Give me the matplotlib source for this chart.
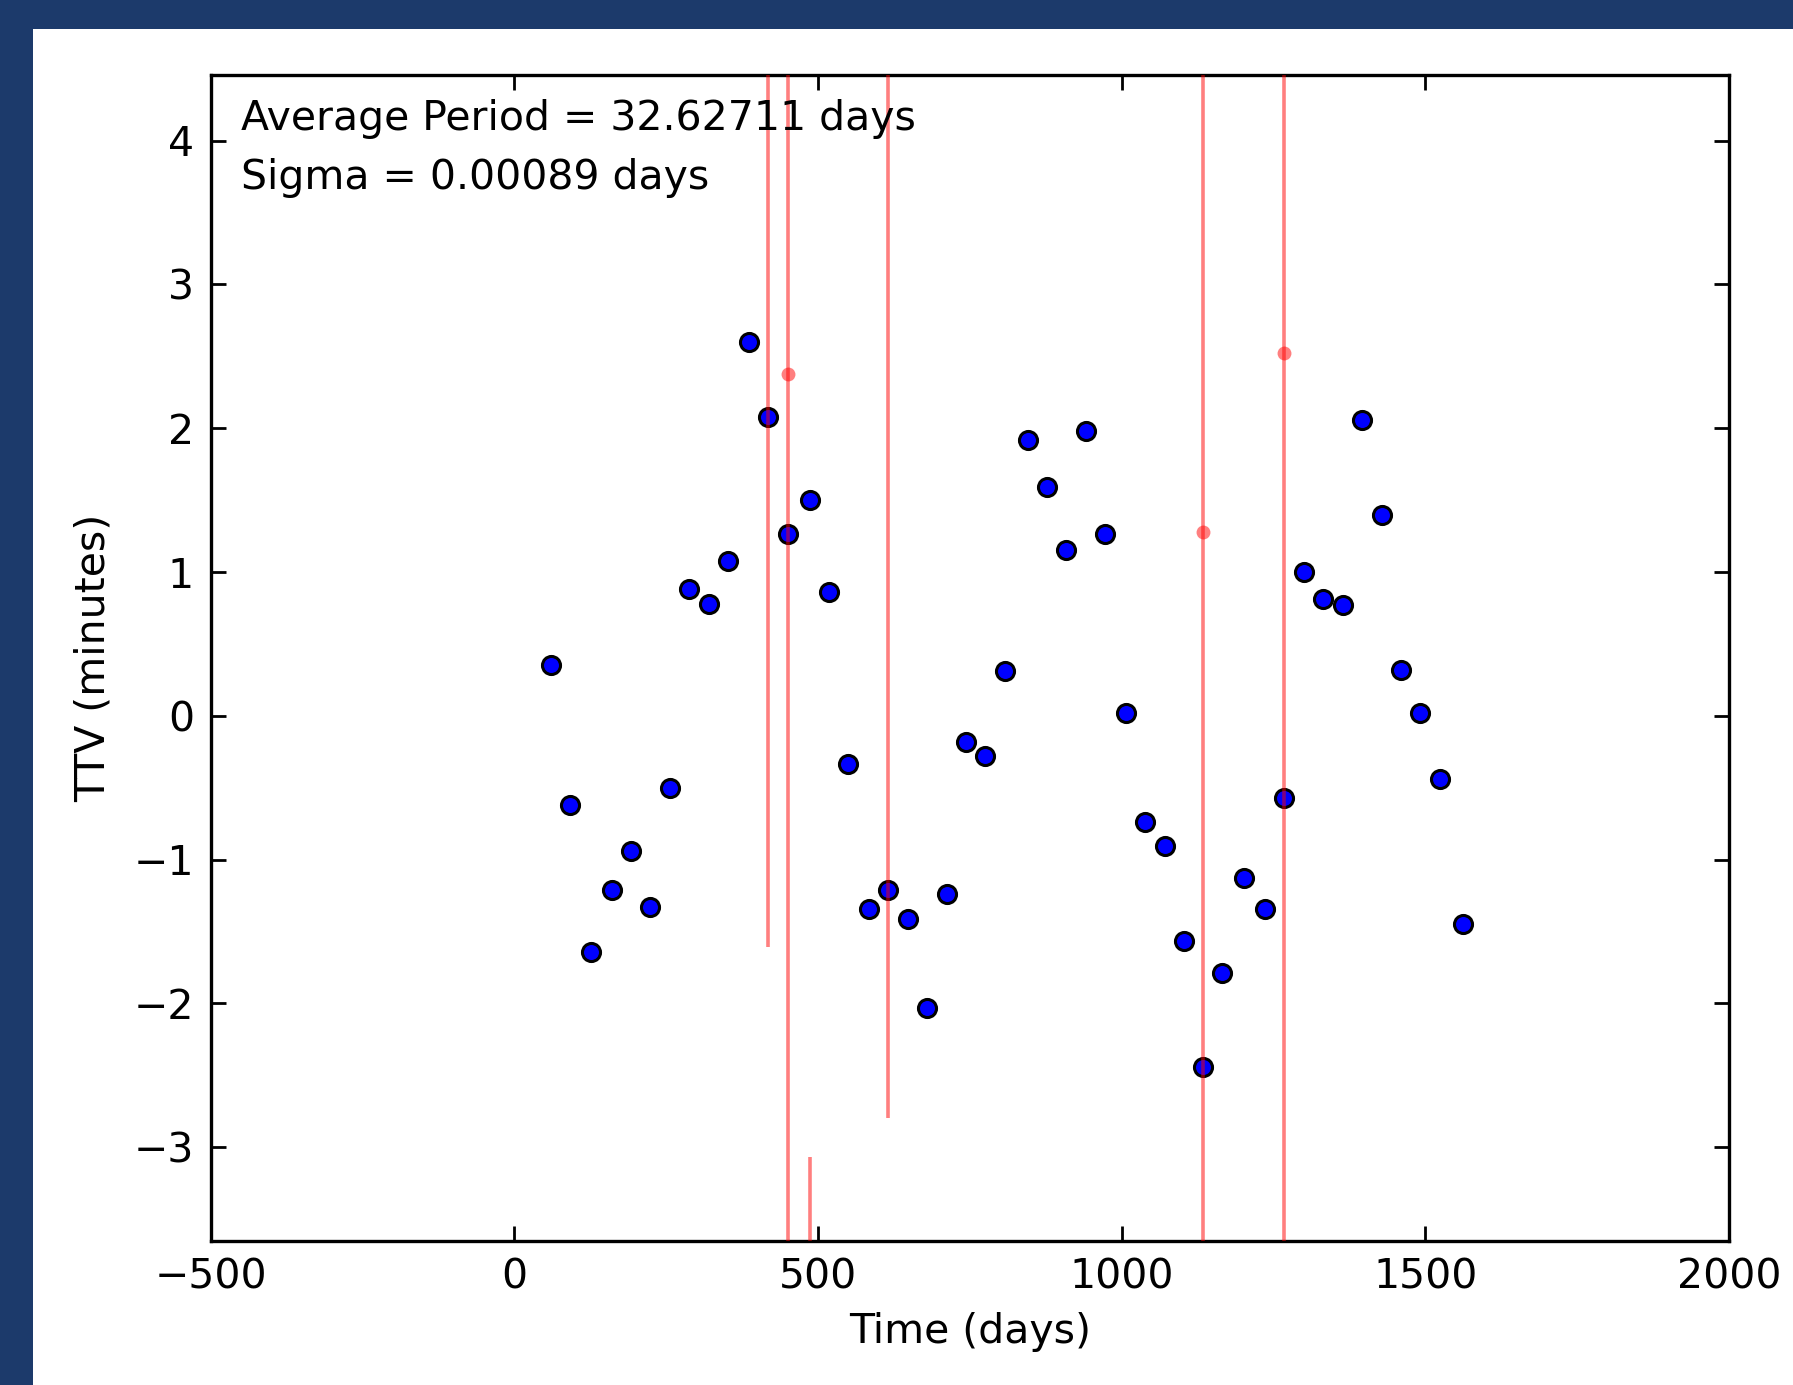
"""
TTV 图：凌星时刻变化 (Transit Timing Variations)
蓝点为正常数据，红色为误差很大的异常点
"""

import matplotlib
matplotlib.use("Agg")
import matplotlib.pyplot as plt
from matplotlib.patches import Rectangle

# 数据
times = [61, 91, 126, 160, 192, 224, 256, 288, 320, 352, 386, 418, 450, 486,
         518, 550, 584, 616, 648, 680, 712, 743, 775, 808, 845, 877, 909, 941,
         973, 1007, 1039, 1071, 1102, 1134, 1166, 1202, 1236, 1268, 1300, 1332,
         1364, 1396, 1428, 1460, 1492, 1524, 1562]
ttv = [0.35, -0.62, -1.645, -1.21, -0.94, -1.33, -0.50, 0.88, 0.78, 1.08,
       2.60, 2.08, 1.265, 1.50, 0.86, -0.335, -1.345, -1.21, -1.415, -2.03,
       -1.24, -0.185, -0.28, 0.31, 1.92, 1.59, 1.15, 1.98, 1.265, 0.02,
       -0.74, -0.905, -1.565, -2.445, -1.79, -1.13, -1.345, -0.575, 1.0,
       0.81, 0.77, 2.06, 1.40, 0.32, 0.02, -0.44, -1.445]

# 异常点（误差很大）
bad_times = [418, 450, 486, 616, 1134, 1268]
bad_ttv = [5.0, 2.38, -5.0, 5.0, 1.28, 2.525]
bad_err = [6.61, 7.0, 1.93, 7.8, 6.0, 7.0]

info_text = "Average Period = 32.62711 days\nSigma = 0.00089 days"

W, H = 1793, 1385
fs = 29.5

plt.rcParams["font.family"] = ["DejaVu Sans"]
plt.rcParams["axes.unicode_minus"] = True

fig = plt.figure(figsize=(W / 100, H / 100), dpi=100, facecolor="#1c3a6b")
# 白色的图区域（截图边框为深蓝色）
fig.patches.append(Rectangle((33 / W, 0), 1 - 33 / W, 1 - 28.5 / H,
                             transform=fig.transFigure, facecolor="white",
                             edgecolor="none", zorder=-10))

ax = fig.add_axes([210.7 / W, (H - 1241) / H, 1518.3 / W, 1166 / H])
ax.set_facecolor("white")

ax.plot(times, ttv, "o", color="blue", markeredgecolor="black",
        markeredgewidth=2.2, markersize=13, zorder=2)
ax.errorbar(bad_times, bad_ttv, yerr=bad_err, fmt="o", color="red",
            markersize=10, elinewidth=2.6, capsize=0, alpha=0.5, zorder=3,
            markeredgewidth=0)

ax.set_xlim(-500, 2000)
ax.set_ylim(-3.653, 4.457)
ax.set_xticks([-500, 0, 500, 1000, 1500, 2000])
ax.set_yticks([-3, -2, -1, 0, 1, 2, 3, 4])

for s in ax.spines.values():
    s.set_linewidth(2.4)
ax.tick_params(direction="in", length=11, width=2.0, labelsize=fs,
               top=True, right=True, pad=12)

ax.set_xlabel("Time (days)", fontsize=fs, labelpad=10)
ax.set_ylabel("TTV (minutes)", fontsize=fs, labelpad=14)

ax.text(0.02, 0.979, info_text, transform=ax.transAxes, fontsize=fs,
        va="top", ha="left", linespacing=1.6)

fig.savefig("out.png", dpi=100, facecolor=fig.get_facecolor())
